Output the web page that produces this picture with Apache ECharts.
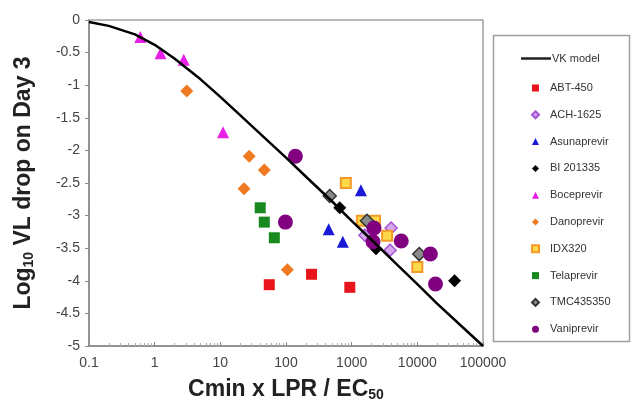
<!DOCTYPE html>
<html><head><meta charset="utf-8">
<script src="https://cdn.jsdelivr.net/npm/echarts@6/dist/echarts.min.js"></script>
<style>html,body{margin:0;padding:0;background:#fff}#c{width:635px;height:403px}</style>
</head><body><div id="c"></div>
<script>
// ---- data ----
const xTickLabels = ['0.1','1','10','100','1000','10000','100000'];
const curveX = [0.1,0.2,0.5,1,2,5,10,20,50,100,200,500,1000,2000,5000,10000,20000,50000,100000];
const curveY = [-0.03,-0.09,-0.22,-0.38,-0.59,-0.91,-1.18,-1.46,-1.83,-2.11,-2.40,-2.78,-3.08,-3.37,-3.76,-4.05,-4.35,-4.72,-5.0];

const abt450X = [55.6,245,937];           const abt450Y = [-4.06,-3.90,-4.10];
const ach1625X = [3990,3850,1590];        const ach1625Y = [-3.19,-3.53,-3.30];
const asunaX = [1384,447,733];            const asunaY = [-2.61,-3.21,-3.40];
const bi201335X = [659,2350,36900];       const bi201335Y = [-2.88,-3.51,-4.00];
const bocepX = [0.605,1.23,2.77,11];      const bocepY = [-0.26,-0.51,-0.61,-1.72];
const danopX = [3.08,27.5,46.7,23,105];   const danopY = [-1.09,-2.09,-2.30,-2.59,-3.83];
const idx320X = [815,1432,2270,3470,10000]; const idx320Y = [-2.50,-3.08,-3.08,-3.31,-3.79];
const telapX = [40.5,46.7,66.4];          const telapY = [-2.88,-3.10,-3.34];
const tmcX = [463,1710,10700];            const tmcY = [-2.70,-3.08,-3.59];
const vaniX = [139,98,2188,2113,5690,15800,18900]; const vaniY = [-2.09,-3.10,-3.19,-3.40,-3.39,-3.59,-4.05];

const zip = (a,b) => a.map((v,i)=>[v,b[i]]);

const scatterDefs = [
  {name:'ABT-450', x:abt450X, y:abt450Y, symbol:'rect', size:11, style:{color:'#e8141c'}},
  {name:'ACH-1625', x:ach1625X, y:ach1625Y, symbol:'diamond', size:12, style:{color:'#d7a6f0', borderColor:'#a455d4', borderWidth:1.5}},
  {name:'Asunaprevir', x:asunaX, y:asunaY, symbol:'triangle', size:12, style:{color:'#1a1ad6'}},
  {name:'BI 201335', x:bi201335X, y:bi201335Y, symbol:'diamond', size:13, style:{color:'#000'}},
  {name:'Boceprevir', x:bocepX, y:bocepY, symbol:'triangle', size:12, style:{color:'#e620e6'}},
  {name:'Danoprevir', x:danopX, y:danopY, symbol:'diamond', size:13, style:{color:'#f07a22'}},
  {name:'IDX320', x:idx320X, y:idx320Y, symbol:'rect', size:10, style:{color:'#ffd84a', borderColor:'#f39a2a', borderWidth:2}},
  {name:'Telaprevir', x:telapX, y:telapY, symbol:'rect', size:11, style:{color:'#17891f'}},
  {name:'TMC435350', x:tmcX, y:tmcY, symbol:'diamond', size:13, style:{color:'#8a8a8a', borderColor:'#333', borderWidth:1.5}},
  {name:'Vaniprevir', x:vaniX, y:vaniY, symbol:'circle', size:15, style:{color:'#800080'}}
];

const series = [{
  name:'VK model', type:'line', data: zip(curveX, curveY), symbol:'none', smooth:false,
  lineStyle:{color:'#000', width:2.5, join:'round'}, itemStyle:{color:'#000'}, z:3
}];
scatterDefs.forEach(d => series.push({
  name:d.name, type:'scatter', data: zip(d.x, d.y), symbol:d.symbol, symbolSize:d.size,
  itemStyle:Object.assign({opacity:1}, d.style), z:2
}));

const chart = echarts.init(document.getElementById('c'), null, {renderer:'canvas'});
chart.setOption({
  animation:false,
  backgroundColor:'#fff',
  grid:{left:89, right:152, top:20, bottom:57, show:true, borderColor:'#a0a0a0', borderWidth:1.5, containLabel:false, outerBoundsMode:'none'},
  xAxis:{
    type:'log', logBase:10, min:0.1, max:100000,
    name:'{a|Cmin x LPR / EC}{s|50}', nameLocation:'middle', nameGap:32,
    nameTextStyle:{rich:{
      a:{fontFamily:'Liberation Sans', fontWeight:'bold', fontSize:23, color:'#222'},
      s:{fontFamily:'Liberation Sans', fontWeight:'bold', fontSize:14, color:'#222', padding:[10,0,0,0]}
    }},
    axisLine:{onZero:false, lineStyle:{color:'#888', width:1.5}},
    axisTick:{show:true, inside:true, length:4, lineStyle:{color:'#888'}},
    minorTick:{show:true, splitNumber:9, length:3, lineStyle:{color:'#aaa'}},
    splitLine:{show:false},
    axisLabel:{fontFamily:'Liberation Sans', fontSize:14, color:'#444', margin:10,
      formatter:v => xTickLabels[Math.round(Math.log10(v))+1]}
  },
  yAxis:{
    type:'value', min:-5, max:0, interval:0.5,
    name:'{a|Log}{s|10}{a| VL drop on Day 3}', nameLocation:'middle', nameGap:53, nameRotate:90,
    nameTextStyle:{rich:{
      a:{fontFamily:'Liberation Sans', fontWeight:'bold', fontSize:23, color:'#222'},
      s:{fontFamily:'Liberation Sans', fontWeight:'bold', fontSize:14, color:'#222', padding:[10,0,0,0]}
    }},
    axisLine:{show:true, onZero:false, lineStyle:{color:'#888', width:1.5}},
    axisTick:{show:true, inside:false, length:4, lineStyle:{color:'#888'}},
    splitLine:{show:false},
    axisLabel:{fontFamily:'Liberation Sans', fontSize:14, color:'#444', margin:9}
  },
  legend:[{
    data:[{name:'VK model', icon:'rect'}], left:516, top:48, orient:'vertical', itemWidth:30, itemHeight:2.5, itemGap:0,
    itemStyle:{color:'#222'},
    textStyle:{fontFamily:'Liberation Sans', fontSize:11, color:'#333', padding:[0,0,0,-4]}
  },{
    data:scatterDefs.map(d=>d.name), left:526, top:76, orient:'vertical', itemWidth:7, itemHeight:7, itemGap:12.8,
    textStyle:{fontFamily:'Liberation Sans', fontSize:11, color:'#333', lineHeight:14, padding:[0,0,0,6]}
  }],
  graphic:[{type:'rect', shape:{x:493.5, y:35.5, width:136, height:306}, style:{fill:'none', stroke:'#a0a0a0', lineWidth:1.5}}],
  series:series
});
</script></body></html>
